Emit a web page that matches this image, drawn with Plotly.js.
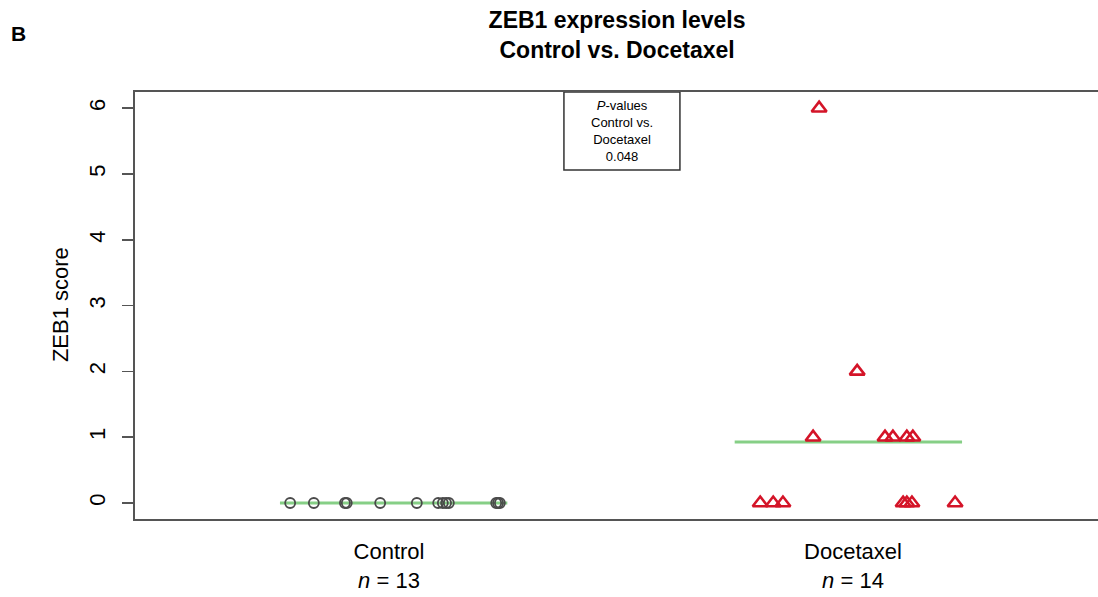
<!DOCTYPE html>
<html>
<head>
<meta charset="utf-8">
<script src="https://cdn.plot.ly/plotly-3.0.1.min.js"></script>
<style>
html,body{margin:0;padding:0;background:#fff;overflow:hidden;}
#chart{width:1098px;height:597px;}
</style>
</head>
<body>
<div id="chart"></div>
<script>
// Data
const groups = ["Control", "Docetaxel"];
const groupN = [13, 14];
const groupPos = [1, 2];
const controlValues = [0,0,0,0,0,0,0,0,0,0,0,0,0];
const controlJitter = [-0.213,-0.162,-0.095,-0.091,-0.019,0.060,0.106,0.116,0.123,0.129,0.231,0.235,0.239];
const doceValues = [0,0,0,0,0,0,0,1,1,1,1,1,2,6];
const doceJitter = [-0.200,-0.172,-0.151,0.108,0.116,0.127,0.220,-0.086,0.069,0.086,0.116,0.129,0.009,-0.073];
const pValue = "0.048";
const yTicks = [0,1,2,3,4,5,6];

const mean = a => a.reduce((s,v)=>s+v,0)/a.length;
const halfW = 0.245;
const green = "#86cf86";

const traces = [
  {x:[groupPos[0]-halfW+0.01, groupPos[0]+halfW+0.01], y:[mean(controlValues), mean(controlValues)],
   mode:"lines", line:{color:green, width:3}, hoverinfo:"skip"},
  {x:[groupPos[1]-halfW-0.01, groupPos[1]+halfW-0.01], y:[mean(doceValues), mean(doceValues)],
   mode:"lines", line:{color:green, width:3}, hoverinfo:"skip"},
  {x:controlJitter.map(j=>groupPos[0]+j), y:controlValues, mode:"markers",
   marker:{symbol:"circle-open", size:10, color:"#4a4a4a", line:{width:1.8, color:"#4a4a4a"}}},
  {x:doceJitter.map(j=>groupPos[1]+j), y:doceValues, mode:"markers",
   marker:{symbol:"triangle-up-open", size:13, color:"#d41428", line:{width:2.6, color:"#d41428"}}}
];

const layout = {
  width:1098, height:597,
  margin:{l:135, r:0, t:92, b:78},
  paper_bgcolor:"#fff", plot_bgcolor:"#fff",
  showlegend:false,
  font:{family:"Liberation Sans, Arial, sans-serif", color:"#000"},
  title:{text:"<b>ZEB1 expression levels<br>Control vs. Docetaxel</b>",
         x:0.562, xanchor:"center", y:0.953, yanchor:"middle",
         font:{size:23, family:"Liberation Sans, Arial, sans-serif", color:"#000"}},
  xaxis:{
    range:[0.4526, 2.528], showgrid:false, zeroline:false,
    showline:true, mirror:true, linecolor:"#555", linewidth:2,
    tickmode:"array", tickvals:groupPos,
    ticktext:groups.map((g,i)=>g+"<br><i>n</i> = "+groupN[i]),
    ticks:"", ticklabelstandoff:12,
    tickfont:{size:22, color:"#000"}
  },
  yaxis:{
    range:[-0.243, 6.246], showgrid:false, zeroline:false,
    showline:true, mirror:false, linecolor:"#555", linewidth:2,
    tickmode:"array", tickvals:yTicks, ticktext:yTicks.map(String),
    ticks:"outside", ticklen:11, tickwidth:1.5, tickcolor:"#555",
    tickangle:-90, ticklabelstandoff:8,
    tickfont:{size:22, color:"#000"}
  },
  shapes:[
    {type:"rect", xref:"x", yref:"y", x0:1.377, x1:1.627, y0:5.06, y1:6.246,
     line:{color:"#333", width:1.5}, fillcolor:"rgba(255,255,255,0)"}
  ],
  annotations:[
    {text:"<i>P</i>-values<br>Control vs.<br>Docetaxel<br>"+pValue, xref:"x", yref:"y",
     x:1.502, y:5.65, showarrow:false, font:{size:13, color:"#000"}, align:"center"},
    {text:"ZEB1 score", xref:"paper", yref:"paper", x:(60-135)/963, y:0.501,
     xanchor:"center", yanchor:"middle",
     textangle:-90, showarrow:false, font:{size:22, color:"#000"}},
    {text:"<b>B</b>", xref:"paper", yref:"paper", x:(18-135)/963, y:(519-33)/427,
     xanchor:"center", yanchor:"middle",
     showarrow:false, font:{size:21, color:"#000"}}
  ]
};

Plotly.newPlot("chart", traces, layout, {displayModeBar:false, staticPlot:true});
</script>
</body>
</html>
